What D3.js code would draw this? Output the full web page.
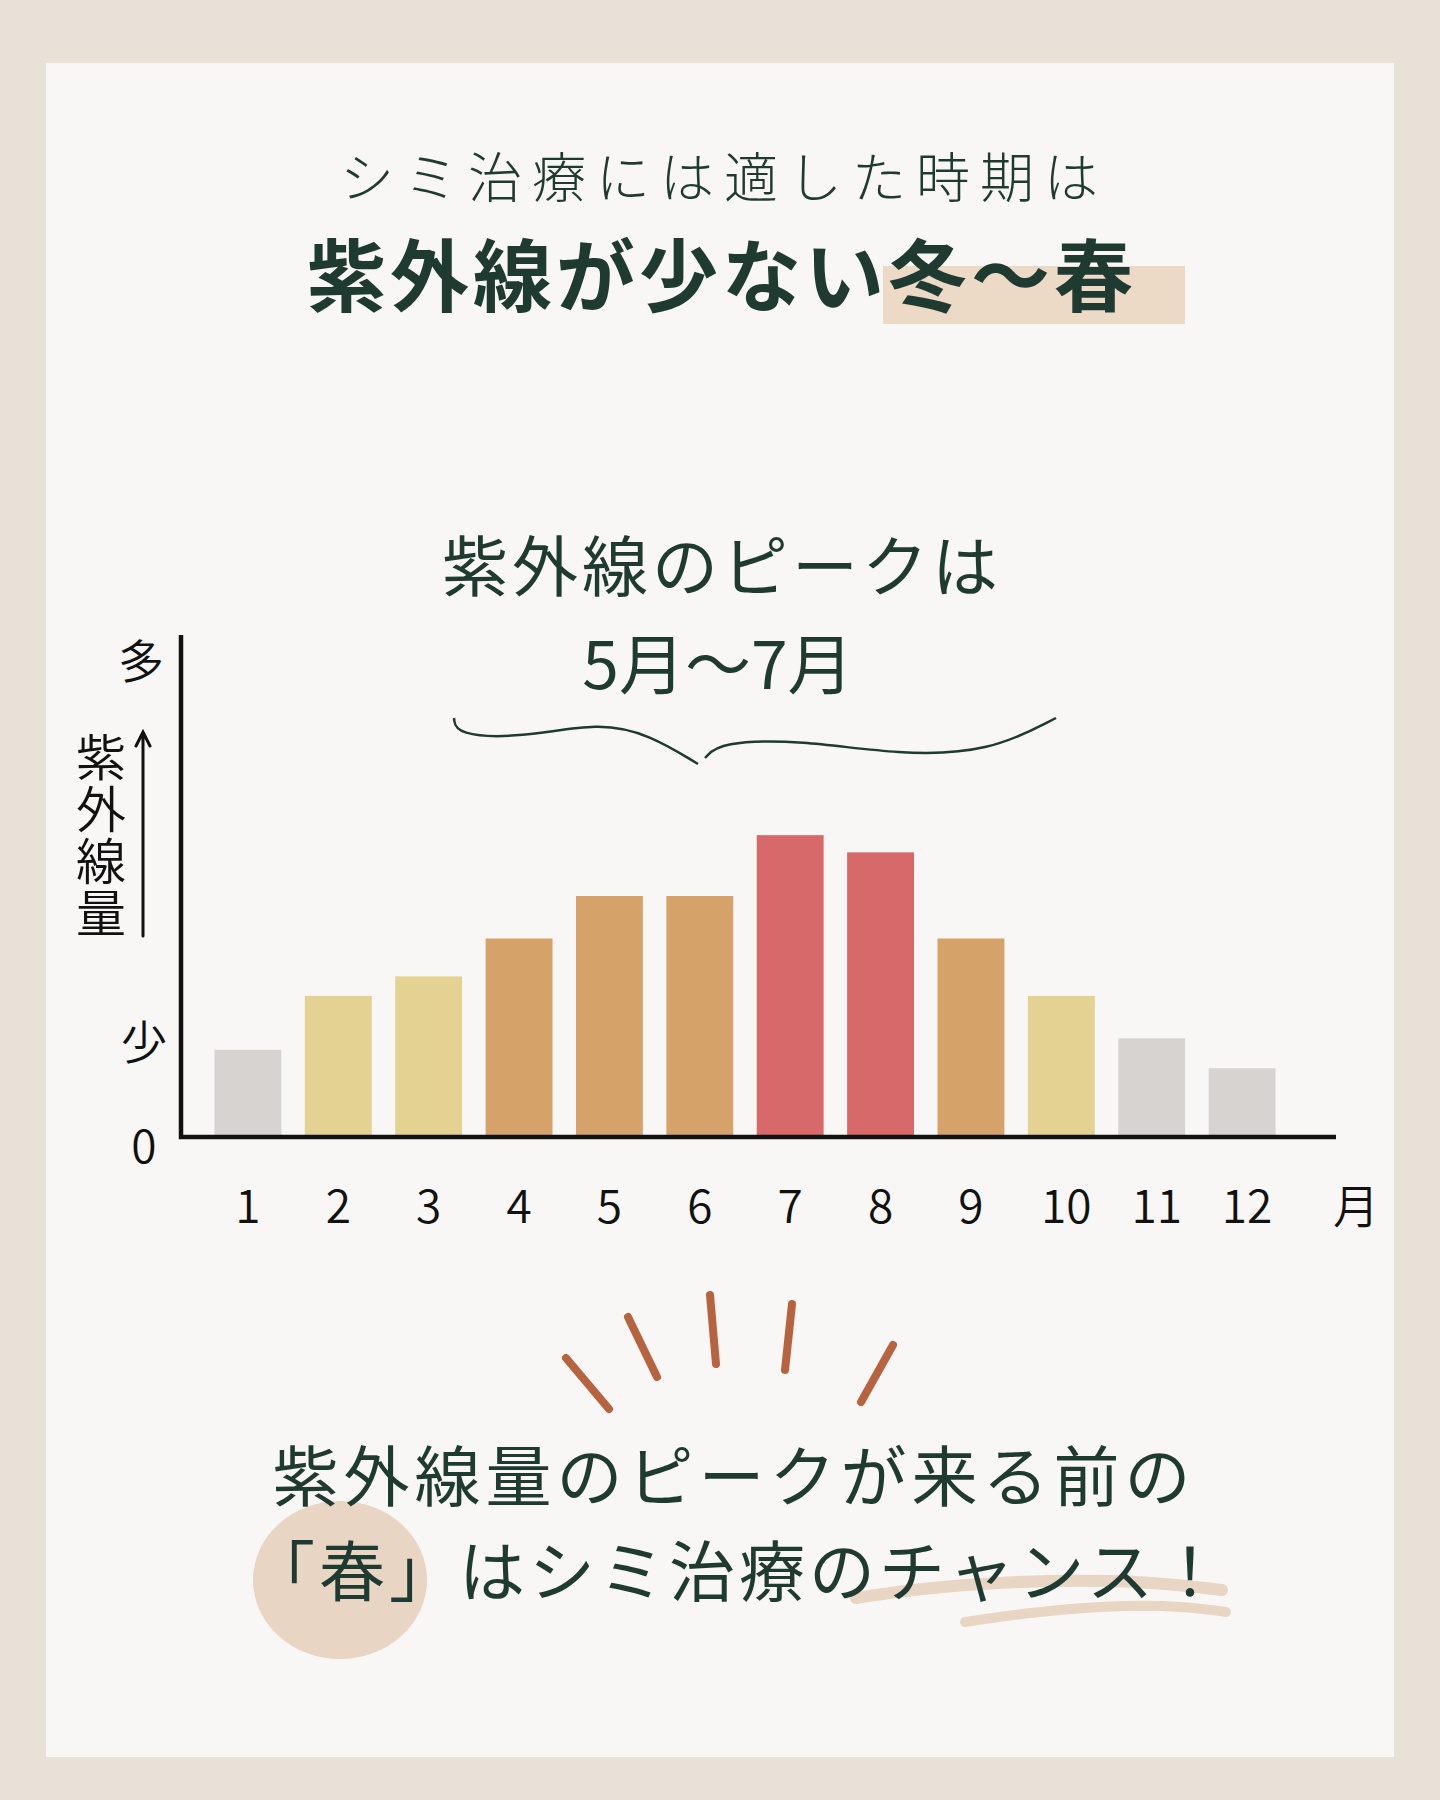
<!DOCTYPE html>
<html>
<head>
<meta charset="utf-8">
<script src="https://cdn.jsdelivr.net/npm/d3@7"></script>
<style>
  html, body { margin: 0; padding: 0; background: #e8e1d8; }
  svg { display: block; }
  text { font-family: "Noto Sans CJK JP", "Noto Sans", sans-serif; }
</style>
</head>
<body>
<div id="chart"></div>
<script>
    // months and relative UV amount (arbitrary units)
    var months = [1, 2, 3, 4, 5, 6, 7, 8, 9, 10, 11, 12];
    var uvValues = [75, 122, 139, 172, 209, 209, 262, 247, 172, 122, 85, 59];
    var levels = ["low", "mid", "mid", "high", "high", "high", "peak", "peak", "high", "mid", "low", "low"];
    var yLabels = ["多", "少", "0"];
    var yTitle = "紫外線量";

    var levelColor = {
        low: "#d6d3d1",
        mid: "#e3d291",
        high: "#d5a36a",
        peak: "#d8696a"
    };
    var ink = "#1e3a31";

    var W = 1440, H = 1800;
    var svg = d3.select("#chart").append("svg")
        .attr("width", W)
        .attr("height", H);

    // backdrop + card
    svg.append("rect").attr("width", W).attr("height", H).attr("fill", "#e8e1d8");
    svg.append("rect")
        .attr("x", 46).attr("y", 63)
        .attr("width", 1348).attr("height", 1694)
        .attr("fill", "#f8f7f5");

    // headline
    svg.append("rect")
        .attr("x", 883).attr("y", 266)
        .attr("width", 302).attr("height", 58)
        .attr("fill", "#ecd9c6");

    svg.append("text")
        .text("シミ治療には適した時期は")
        .attr("x", 724).attr("y", 198)
        .attr("text-anchor", "middle")
        .attr("fill", ink)
        .style("font-size", "54px")
        .style("font-weight", 300)
        .style("letter-spacing", "10px");

    svg.append("text")
        .text("紫外線が少ない冬〜春")
        .attr("x", 722).attr("y", 306)
        .attr("text-anchor", "middle")
        .attr("fill", ink)
        .style("font-size", "79px")
        .style("font-weight", 700)
        .style("letter-spacing", "4px");

    // peak annotation
    svg.append("text")
        .text("紫外線のピークは")
        .attr("x", 722).attr("y", 591)
        .attr("text-anchor", "middle")
        .attr("fill", ink)
        .style("font-size", "66px")
        .style("font-weight", 400)
        .style("letter-spacing", "4px");

    svg.append("text")
        .text("5月〜7月")
        .attr("x", 718).attr("y", 689)
        .attr("text-anchor", "middle")
        .attr("fill", ink)
        .style("font-size", "66px")
        .style("font-weight", 400);

    var line = d3.line().curve(d3.curveBasis);
    svg.append("path")
        .attr("d", line([[454, 718], [456, 735], [520, 738], [600, 722], [650, 735], [698, 764]]))
        .attr("fill", "none").attr("stroke", ink).attr("stroke-width", 2.5);
    svg.append("path")
        .attr("d", line([[705, 758], [720, 742], [800, 740], [900, 755], [990, 752], [1056, 718]]))
        .attr("fill", "none").attr("stroke", ink).attr("stroke-width", 2.5);

    // chart
    var axisX = 181, baseY = 1136, axisTop = 635, axisRight = 1336;

    var x = d3.scaleBand()
        .domain(months)
        .range([axisX, axisX + 1128])
        .paddingInner(0.26)
        .paddingOuter(0.37);

    var y = d3.scaleLinear()
        .domain([0, 300])
        .range([baseY, baseY - 300 * 1.1483]);

    svg.append("g")
        .selectAll("rect")
        .data(months)
        .enter()
        .append("rect")
        .attr("x", d => x(d))
        .attr("y", (d, i) => y(uvValues[i]))
        .attr("width", x.bandwidth())
        .attr("height", (d, i) => y(0) - y(uvValues[i]))
        .attr("fill", (d, i) => levelColor[levels[i]]);

    svg.append("path")
        .attr("d", "M" + axisX + "," + axisTop + "V" + (baseY + 1) + "H" + axisRight)
        .attr("fill", "none")
        .attr("stroke", "#111")
        .attr("stroke-width", 4.5);

    svg.append("g")
        .selectAll("text")
        .data(months)
        .enter()
        .append("text")
        .text(d => d)
        .attr("x", d => x(d) + x.bandwidth() / 2 + (d > 9 ? 5 : 0))
        .attr("y", 1223)
        .attr("text-anchor", "middle")
        .attr("fill", "#111")
        .style("font-size", "46px")
        .style("font-weight", 350);

    svg.append("text")
        .text("月")
        .attr("x", 1356).attr("y", 1223)
        .attr("text-anchor", "middle")
        .attr("fill", "#111")
        .style("font-size", "46px")
        .style("font-weight", 350);

    var yPos = [658, 1039, 1143];
    svg.append("g")
        .selectAll("text")
        .data(yLabels)
        .enter()
        .append("text")
        .text(d => d)
        .attr("x", (d, i) => i == 0 ? 141 : 144)
        .attr("y", (d, i) => yPos[i])
        .attr("dominant-baseline", "central")
        .attr("text-anchor", "middle")
        .attr("fill", "#111")
        .style("font-size", "46px")
        .style("font-weight", 350);

    svg.append("text")
        .text(yTitle)
        .attr("x", 101)
        .attr("y", 732)
        .attr("fill", "#111")
        .style("writing-mode", "vertical-rl")
        .style("font-size", "50px")
        .style("font-weight", 350)
        .style("letter-spacing", "2px");

    svg.append("path")
        .attr("d", "M143,936 L143,733 M136,746 L143,732 L150,746")
        .attr("fill", "none")
        .attr("stroke", "#111")
        .attr("stroke-width", 3)
        .attr("stroke-linecap", "round");

    // sun rays
    var rays = [
        [[566, 1358], [609, 1409]],
        [[628, 1317], [657, 1377]],
        [[710, 1295], [716, 1364]],
        [[792, 1304], [785, 1370]],
        [[893, 1345], [861, 1402]]
    ];
    svg.append("g")
        .selectAll("line")
        .data(rays)
        .enter()
        .append("line")
        .attr("x1", d => d[0][0]).attr("y1", d => d[0][1])
        .attr("x2", d => d[1][0]).attr("y2", d => d[1][1])
        .attr("stroke", "#b7633f")
        .attr("stroke-width", 8)
        .attr("stroke-linecap", "round");

    // bottom message
    svg.append("ellipse")
        .attr("cx", 340).attr("cy", 1580)
        .attr("rx", 87).attr("ry", 79)
        .attr("fill", "#e9d5c3");

    svg.append("path")
        .attr("d", line([[856, 1598], [950, 1584], [1120, 1578], [1222, 1590]]))
        .attr("fill", "none").attr("stroke", "#e9d5c3")
        .attr("stroke-width", 12).attr("stroke-linecap", "round");
    svg.append("path")
        .attr("d", line([[965, 1622], [1060, 1608], [1170, 1604], [1226, 1612]]))
        .attr("fill", "none").attr("stroke", "#e9d5c3")
        .attr("stroke-width", 10).attr("stroke-linecap", "round");

    svg.append("text")
        .text("紫外線量のピークが来る前の")
        .attr("x", 734).attr("y", 1501)
        .attr("text-anchor", "middle")
        .attr("fill", ink)
        .style("font-size", "66px")
        .style("font-weight", 400)
        .style("letter-spacing", "5px");

    svg.append("text")
        .text("「春」はシミ治療のチャンス！")
        .attr("x", 738).attr("y", 1596)
        .attr("text-anchor", "middle")
        .attr("fill", ink)
        .style("font-size", "66px")
        .style("font-weight", 400)
        .style("letter-spacing", "4px");
</script>
</body>
</html>
